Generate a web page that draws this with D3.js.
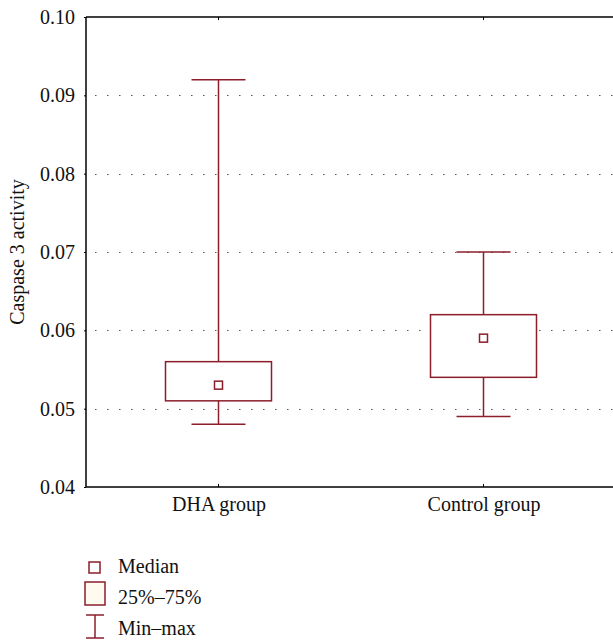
<!DOCTYPE html>
<html>
<head>
<meta charset="utf-8">
<script src="https://cdn.jsdelivr.net/npm/d3@7"></script>
<style>
  body { margin: 0; background: #fff; }
  text { font-family: "Liberation Serif", "DejaVu Serif", serif; fill: #111; }
</style>
</head>
<body>
<svg id="chart" width="613" height="640"></svg>
<script>
// Data
const groups = ["DHA group", "Control group"];
const minVals = [0.048, 0.049];
const q1Vals = [0.051, 0.054];
const medianVals = [0.053, 0.059];
const q3Vals = [0.056, 0.062];
const maxVals = [0.092, 0.070];
const yTicks = [0.04, 0.05, 0.06, 0.07, 0.08, 0.09, 0.10];
const legendLabels = ["Median", "25%\u201375%", "Min\u2013max"];

const boxColor = "#8b1e2b";
const fontSize = "20px";

const svg = d3.select("#chart");
const margin = { left: 86, top: 17, right: -3, bottom: 153 };
const width = +svg.attr("width");
const height = +svg.attr("height");
const innerW = width - margin.left - margin.right;
const innerH = height - margin.top - margin.bottom;

const x = d3.scalePoint().domain(groups).range([0, innerW]).padding(0.5);
const y = d3.scaleLinear().domain([0.04, 0.10]).range([innerH, 0]);

const g = svg.append("g").attr("transform", `translate(${margin.left},${margin.top})`);

// dotted grid
g.selectAll(".grid")
  .data(yTicks.filter(t => t > 0.04 && t < 0.10))
  .enter().append("line")
  .attr("x1", 0).attr("x2", innerW)
  .attr("y1", d => Math.round(y(d)) + 0.5).attr("y2", d => Math.round(y(d)) + 0.5)
  .attr("stroke", "#555")
  .attr("stroke-width", 1.2)
  .attr("stroke-dasharray", "1.5,10.5")
  .attr("stroke-dashoffset", -9);

// boxes
const boxW = 106, capW = 54, medS = 8;
const boxes = g.selectAll(".box")
  .data(groups.map((name, i) => ({ name, min: minVals[i], q1: q1Vals[i], med: medianVals[i], q3: q3Vals[i], max: maxVals[i] })))
  .enter().append("g")
  .attr("class", "box")
  .attr("transform", d => `translate(${x(d.name)},0)`);

boxes.append("line")
  .attr("x1", 0).attr("x2", 0)
  .attr("y1", d => y(d.max)).attr("y2", d => y(d.q3))
  .attr("stroke", boxColor).attr("stroke-width", 1.5);
boxes.append("line")
  .attr("x1", 0).attr("x2", 0)
  .attr("y1", d => y(d.q1)).attr("y2", d => y(d.min))
  .attr("stroke", boxColor).attr("stroke-width", 1.5);
boxes.append("line")
  .attr("x1", -capW / 2).attr("x2", capW / 2)
  .attr("y1", d => y(d.max)).attr("y2", d => y(d.max))
  .attr("stroke", boxColor).attr("stroke-width", 1.5);
boxes.append("line")
  .attr("x1", -capW / 2).attr("x2", capW / 2)
  .attr("y1", d => y(d.min)).attr("y2", d => y(d.min))
  .attr("stroke", boxColor).attr("stroke-width", 1.5);
boxes.append("rect")
  .attr("x", -boxW / 2).attr("width", boxW)
  .attr("y", d => y(d.q3)).attr("height", d => y(d.q1) - y(d.q3))
  .attr("fill", "#fff").attr("stroke", boxColor).attr("stroke-width", 1.5);
boxes.append("rect")
  .attr("x", -medS / 2).attr("width", medS)
  .attr("y", d => y(d.med) - medS / 2).attr("height", medS)
  .attr("fill", "#fff").attr("stroke", boxColor).attr("stroke-width", 1.5);

// axes frame
g.append("line").attr("x1", 0).attr("x2", innerW).attr("y1", 0).attr("y2", 0)
  .attr("stroke", "#000").attr("stroke-width", 1.5);
g.append("line").attr("x1", 0).attr("x2", innerW).attr("y1", innerH).attr("y2", innerH)
  .attr("stroke", "#000").attr("stroke-width", 1.5);
g.append("line").attr("x1", 0).attr("x2", 0).attr("y1", 0).attr("y2", innerH)
  .attr("stroke", "#000").attr("stroke-width", 1.5);

// category ticks (inward, top and bottom)
groups.forEach(gname => {
  g.append("line").attr("x1", x(gname)).attr("x2", x(gname)).attr("y1", 0).attr("y2", 3)
    .attr("stroke", "#000").attr("stroke-width", 1);
  g.append("line").attr("x1", x(gname)).attr("x2", x(gname)).attr("y1", innerH).attr("y2", innerH - 3)
    .attr("stroke", "#000").attr("stroke-width", 1);
});

// y axis
const yAxis = g.append("g")
  .call(d3.axisLeft(y).tickValues(yTicks).tickFormat(d3.format(".2f")).tickSize(2).tickPadding(9));
yAxis.select(".domain").remove();
yAxis.selectAll("text").style("font-size", fontSize).attr("fill", "#111");

// x axis labels
const xAxis = g.append("g")
  .attr("transform", `translate(0,${innerH})`)
  .call(d3.axisBottom(x).tickSize(0).tickPadding(10));
xAxis.select(".domain").remove();
xAxis.selectAll("text").style("font-size", fontSize).attr("fill", "#111");

// y label
svg.append("text")
  .attr("transform", `translate(24,${margin.top + innerH / 2}) rotate(-90)`)
  .attr("text-anchor", "middle")
  .style("font-size", fontSize)
  .text("Caspase 3 activity");

// legend
const lg = svg.append("g").attr("transform", "translate(95,567)");
lg.append("rect").attr("x", -6).attr("y", -5).attr("width", 11).attr("height", 11)
  .attr("fill", "#fff").attr("stroke", boxColor).attr("stroke-width", 1.5);
lg.append("rect").attr("x", -10).attr("y", 15).attr("width", 20).attr("height", 23)
  .attr("fill", "#fffaf0").attr("stroke", boxColor).attr("stroke-width", 1.5);
lg.append("line").attr("x1", -9).attr("x2", 9).attr("y1", 48).attr("y2", 48)
  .attr("stroke", boxColor).attr("stroke-width", 1.5);
lg.append("line").attr("x1", -9).attr("x2", 9).attr("y1", 71).attr("y2", 71)
  .attr("stroke", boxColor).attr("stroke-width", 1.5);
lg.append("line").attr("x1", 0).attr("x2", 0).attr("y1", 48).attr("y2", 71)
  .attr("stroke", boxColor).attr("stroke-width", 1.5);
lg.selectAll(".lt")
  .data(legendLabels)
  .enter().append("text")
  .attr("x", 23)
  .attr("y", (d, i) => 6 + i * 31)
  .style("font-size", fontSize)
  .text(d => d);
</script>
</body>
</html>
